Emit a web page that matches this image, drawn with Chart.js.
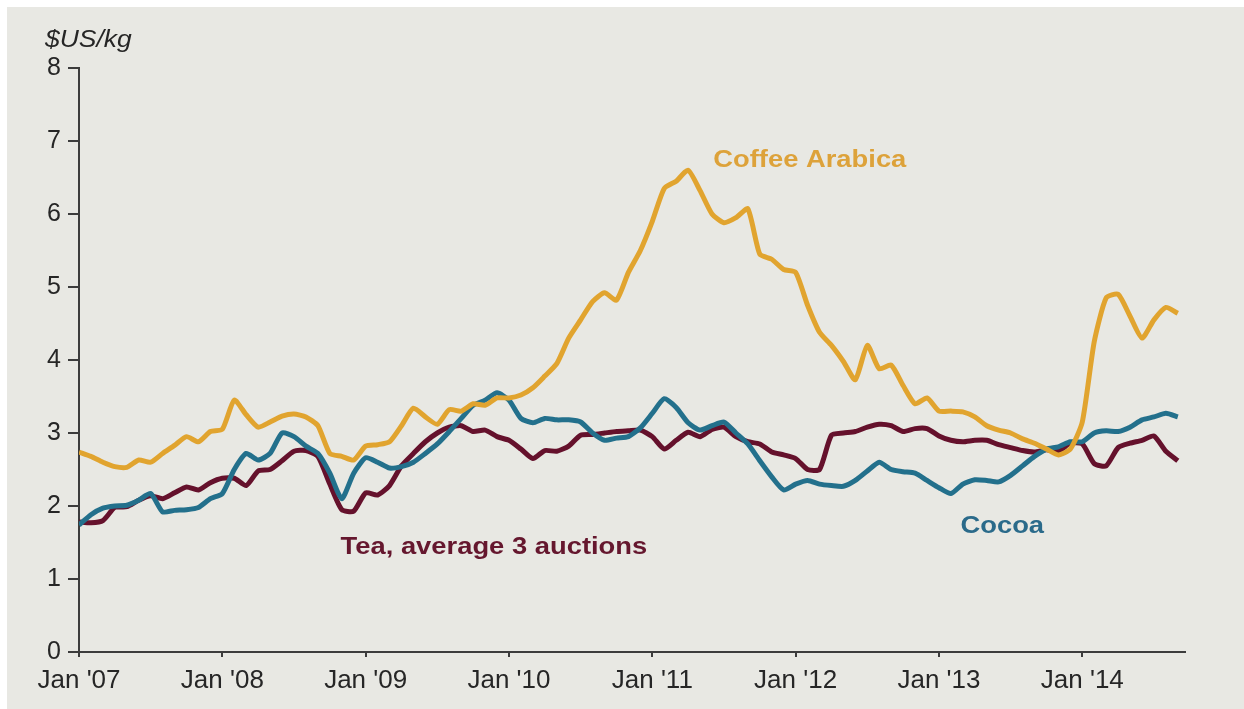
<!DOCTYPE html>
<html>
<head>
<meta charset="utf-8">
<script src="https://cdn.jsdelivr.net/npm/chart.js@4/dist/chart.umd.min.js"></script>
<style>
  html, body { margin: 0; padding: 0; background: #ffffff; }
  #wrap {
    position: absolute; left: 7px; top: 7px;
    width: 1237px; height: 702px;
    background: #e8e8e3;
  }
</style>
</head>
<body>
<div id="wrap"><canvas id="chart" width="1237" height="702"></canvas></div>
<script>
/* ─── Data (monthly, Jan 2007 = month 0) ─────────────────────────────────── */
const tickMonths = [0, 12, 24, 36, 48, 60, 72, 84];
const tickLabels = ["Jan '07", "Jan '08", "Jan '09", "Jan '10", "Jan '11", "Jan '12", "Jan '13", "Jan '14"];

const coffee = [
  2.74, 2.68, 2.60, 2.54, 2.53, 2.63, 2.60, 2.72, 2.83, 2.95, 2.88, 3.02,
  3.05, 3.45, 3.25, 3.08, 3.15, 3.23, 3.26, 3.22, 3.10, 2.72, 2.68, 2.63,
  2.82, 2.84, 2.88, 3.10, 3.34, 3.22, 3.12, 3.32, 3.30, 3.40, 3.38, 3.48,
  3.48, 3.52, 3.62, 3.78, 3.95, 4.30, 4.55, 4.80, 4.92, 4.82, 5.20, 5.50,
  5.90, 6.35, 6.45, 6.60, 6.32, 6.00, 5.88, 5.95, 6.07, 5.45, 5.38, 5.24,
  5.20, 4.75, 4.38, 4.20, 3.98, 3.73, 4.20, 3.88, 3.93, 3.65, 3.40, 3.48,
  3.30, 3.30, 3.29, 3.22, 3.10, 3.04, 3.00, 2.92, 2.86, 2.78, 2.70, 2.78,
  3.15, 4.25, 4.85, 4.90, 4.60, 4.30, 4.55, 4.72, 4.64
];
const cocoa = [
  1.74, 1.88, 1.97, 2.00, 2.01, 2.08, 2.17, 1.92, 1.94, 1.95, 1.98, 2.10,
  2.17, 2.50, 2.72, 2.63, 2.72, 3.00, 2.95, 2.82, 2.72, 2.45, 2.10, 2.45,
  2.66, 2.60, 2.52, 2.54, 2.60, 2.72, 2.85, 3.02, 3.20, 3.38, 3.45, 3.55,
  3.45, 3.20, 3.14, 3.20, 3.18, 3.18, 3.15, 3.00, 2.90, 2.93, 2.95, 3.07,
  3.27, 3.47, 3.35, 3.14, 3.04, 3.10, 3.15, 3.00, 2.85, 2.62, 2.40, 2.22,
  2.30, 2.35, 2.30, 2.28, 2.27, 2.35, 2.48, 2.60, 2.50, 2.47, 2.45, 2.35,
  2.25, 2.17, 2.30, 2.36, 2.35, 2.33, 2.42, 2.55, 2.68, 2.78, 2.81, 2.88,
  2.88, 3.00, 3.03, 3.02, 3.08, 3.18, 3.22, 3.27, 3.22
];
const tea = [
  1.78, 1.77, 1.80, 1.98, 1.99, 2.08, 2.14, 2.10, 2.18, 2.26, 2.22, 2.32,
  2.38, 2.38, 2.28, 2.48, 2.50, 2.62, 2.75, 2.76, 2.68, 2.30, 1.95, 1.93,
  2.18, 2.15, 2.28, 2.55, 2.72, 2.88, 3.00, 3.08, 3.10, 3.02, 3.04, 2.95,
  2.90, 2.78, 2.65, 2.76, 2.75, 2.82, 2.97, 2.98, 3.00, 3.02, 3.03, 3.04,
  2.95, 2.78, 2.90, 3.01, 2.95, 3.05, 3.08, 2.95, 2.88, 2.85, 2.74, 2.70,
  2.65, 2.50, 2.50, 2.97, 3.00, 3.02, 3.08, 3.12, 3.10, 3.02, 3.06, 3.06,
  2.96, 2.90, 2.88, 2.90, 2.90, 2.84, 2.80, 2.76, 2.74, 2.77, 2.75, 2.86,
  2.85, 2.58, 2.55, 2.80, 2.86, 2.90, 2.96, 2.75, 2.62
];

/* series labels placed in data units */
const seriesLabels = [
  { text: 'Coffee Arabica',          color: '#dda23a', month: 53.1, value: 6.73 },
  { text: 'Tea, average 3 auctions', color: '#65172e', month: 21.9, value: 1.43 },
  { text: 'Cocoa',                   color: '#2a6a8a', month: 73.8, value: 1.72 }
];

/* ─── Helpers ────────────────────────────────────────────────────────────── */
const toPoints = arr => arr.map((v, i) => ({ x: i, y: v }));

const AXIS = '#3c3c3c';
const TEXT = '#262626';

const labelPlugin = {
  id: 'labels',
  afterDatasetsDraw(chart) {
    const { ctx, scales, chartArea } = chart;
    ctx.save();
    ctx.textBaseline = 'middle';
    ctx.textAlign = 'left';
    ctx.font = 'bold 24px "Liberation Sans", Arial, sans-serif';
    seriesLabels.forEach(l => {
      ctx.save();
      ctx.translate(scales.x.getPixelForValue(l.month), scales.y.getPixelForValue(l.value));
      ctx.scale(1.14, 1);
      ctx.fillStyle = l.color;
      ctx.fillText(l.text, 0, 0);
      ctx.restore();
    });
    /* unit label above the y axis */
    ctx.save();
    ctx.translate(chartArea.left - 34, chartArea.top - 27);
    ctx.scale(1.15, 1);
    ctx.font = 'italic 23px "Liberation Sans", Arial, sans-serif';
    ctx.fillStyle = TEXT;
    ctx.fillText('$US/kg', 0, 0);
    ctx.restore();
    ctx.restore();
  }
};

/* ─── Chart ──────────────────────────────────────────────────────────────── */
const line = (label, data, color) => ({
  label,
  data: toPoints(data),
  borderColor: color,
  backgroundColor: color,
  borderWidth: 5,
  pointRadius: 0,
  tension: 0.2,
  fill: false
});

new Chart(document.getElementById('chart'), {
  type: 'line',
  data: {
    datasets: [
      line('Coffee Arabica', coffee, '#e1a42f'),
      line('Cocoa', cocoa, '#23708c'),
      line('Tea, average 3 auctions', tea, '#65112c')
    ]
  },
  options: {
    responsive: false,
    animation: false,
    layout: { padding: { top: 61, right: 59, left: 0, bottom: 0 } },
    plugins: {
      legend: { display: false },
      tooltip: { enabled: false }
    },
    scales: {
      x: {
        type: 'linear',
        min: 0,
        max: 92.6,
        afterFit: s => { s.height = 57; },
        afterBuildTicks: s => { s.ticks = tickMonths.map(v => ({ value: v })); },
        border: { display: true, color: AXIS, width: 2 },
        grid: { display: true, drawOnChartArea: false, drawTicks: true, tickLength: 5, color: AXIS, lineWidth: 2 },
        ticks: {
          autoSkip: false,
          maxRotation: 0,
          padding: 8,
          color: TEXT,
          font: { family: '"Liberation Sans", Arial, sans-serif', size: 26 },
          callback: (v, i) => tickLabels[i]
        }
      },
      y: {
        min: 0,
        max: 8,
        afterFit: s => { s.width = 72; },
        border: { display: true, color: AXIS, width: 2 },
        grid: { display: true, drawOnChartArea: false, drawTicks: true, tickLength: 11, color: AXIS, lineWidth: 2 },
        ticks: {
          stepSize: 1,
          padding: 7,
          color: TEXT,
          font: { family: '"Liberation Sans", Arial, sans-serif', size: 25 }
        }
      }
    }
  },
  plugins: [labelPlugin]
});
</script>
</body>
</html>
